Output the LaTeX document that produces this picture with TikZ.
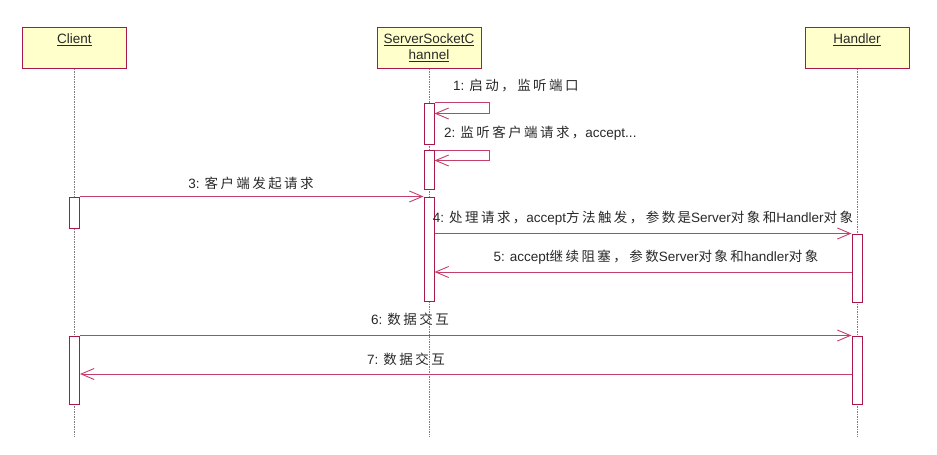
\documentclass[tikz,border=0pt]{standalone}
\usepackage{fontspec}
\setmainfont{Liberation Sans}
\newfontfamily\cjk[LetterSpace=18]{Noto Sans CJK SC}
\usetikzlibrary{arrows.meta}
\newcommand\zh[1]{{\cjk #1}}
\definecolor{msgc}{RGB}{196,64,104}
\definecolor{boxc}{RGB}{168,24,72}
\definecolor{headfill}{RGB}{255,255,204}
\definecolor{lifec}{RGB}{125,125,125}
\definecolor{txt}{RGB}{40,40,40}
\begin{document}
\begin{tikzpicture}[x=1pt,y=-1pt, font=\fontsize{13.5}{16}\selectfont,
 head/.style={draw=boxc, line width=1pt, fill=headfill, minimum width=104pt, minimum height=41pt, inner sep=0pt},
 htxt/.style={inner sep=0pt, align=center, text=txt},
 act/.style={draw=boxc, line width=1pt, fill=white, minimum width=10pt, inner sep=0pt},
 life/.style={draw=lifec, line width=0.8pt, dash pattern=on 1.5pt off 1pt},
 msg/.style={draw=msgc, line width=0.9pt, -{Straight Barb[length=13pt,width=11pt]}},
 lbl/.style={inner sep=0pt, text=txt}]
\useasboundingbox (0,0) rectangle (937,455);
% heads
\node[head] (client) at (74.5,47.5) {};
\node[head] (server) at (429,47.5) {};
\node[head] (handler) at (857,47.5) {};
\node[htxt] (clientt) at (74.5,40) {\underline{Client}};
\node[htxt] (servert) at (429,48) {\underline{ServerSocketC}\\ \underline{hannel}};
\node[htxt] (handlert) at (857,40) {\underline{Handler}};
% lifeline ends
\coordinate (cend) at (74.5,437);
\coordinate (send) at (429,437);
\coordinate (hend) at (857,437);
\draw[life] (client.south) -- (cend);
\draw[life] (server.south) -- (send);
\draw[life] (handler.south) -- (hend);
% activations
\node[act, minimum height=41pt] (sa1) at (429,123.5) {};
\node[act, minimum height=39pt] (sa2) at (429,169.5) {};
\node[act, minimum height=104pt] (sa3) at (429,249) {};
\node[act, minimum height=31pt] (ca1) at (74.5,212.5) {};
\node[act, minimum height=68pt] (ha1) at (857,268) {};
\node[act, minimum height=68pt] (ca2) at (74.5,370) {};
\node[act, minimum height=68pt] (ha2) at (857,370) {};
% messages
\draw[msg] (sa1.north east) -- ++(55,0) -- ++(0,11) -- ++(-55,0);
\node[lbl, anchor=west] (l1) at (453,86) {1: \zh{启动，监听端口}};
\draw[msg] ([yshift=-1pt]sa2.north east) -- ++(55,0) -- ++(0,10) -- ++(-55,0);
\node[lbl, anchor=west] (l2) at (444,133) {2: \zh{监听客户端请求，}accept...};
\draw[msg] (ca1.north east) -- (sa3.north west);
\node[lbl] (l3) at (251,183) {3: \zh{客户端发起请求}};
\draw[msg] (sa3.east |- ha1.north west) -- (ha1.north west);
\node[lbl] (l4) at (643,218) {4: \zh{处理请求，}accept\zh{方法触发，参数是}Server\zh{对象和}Handler\zh{对象}};
\draw[msg] (ha1.west |- 0,272) -- (sa3.east |- 0,272);
\node[lbl] (l5) at (656,257) {5: accept\zh{继续阻塞，参数}Server\zh{对象和}handler\zh{对象}};
\draw[msg] (ca2.north east) -- (ha2.north west);
\node[lbl] (l6) at (410,319) {6: \zh{数据交互}};
\draw[msg] (ha2.west |- 0,374) -- (ca2.east |- 0,374);
\node[lbl] (l7) at (406,359) {7: \zh{数据交互}};
\end{tikzpicture}
\end{document}
